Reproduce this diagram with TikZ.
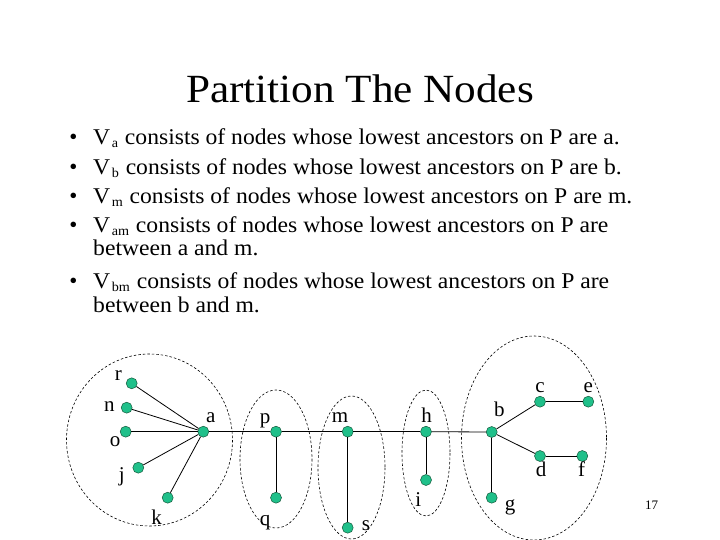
\documentclass[tikz,border=0pt]{standalone}
\usepackage{fontspec}
\setmainfont{Liberation Serif}
\newfontfamily\titlefont[FakeStretch=1.08]{Liberation Serif}
\newfontfamily\bodyfont[FakeStretch=1.05]{Liberation Serif}
\definecolor{dotfill}{RGB}{32,192,138}
\definecolor{dotline}{RGB}{20,90,60}
\newcommand{\vsub}[1]{\kern1.5pt\relax\raisebox{-3pt}{\fontsize{13.5}{14}\selectfont #1}\kern1pt\relax}
\begin{document}
\begin{tikzpicture}[x=1pt,y=-1pt,
  txt/.style={anchor=base west,inner sep=0pt,font=\bodyfont\fontsize{22.5}{26}\selectfont},
  bul/.style={anchor=base,inner sep=0pt,font=\fontsize{23}{26}\selectfont},
  lbl/.style={anchor=base,inner sep=0pt,font=\fontsize{21}{24}\selectfont},
  dot/.style={circle,minimum size=11pt,inner sep=0pt,fill=dotfill,draw=dotline,line width=0.5pt},
  edge/.style={draw=black,line width=0.8pt},
  part/.style={draw=black,dashed,dash pattern=on 2.5pt off 2pt,line width=0.6pt}]
\useasboundingbox (0,0) rectangle (720,540);
\fill[white] (0,0) rectangle (720,540);
% title
\node[anchor=base,inner sep=0pt,font=\titlefont\fontsize{40}{48}\selectfont] (title) at (360,103) {Partition The Nodes};
% bullets
\node[bul] (b1) at (73.5,145) {•};
\node[txt] (t1) at (93,145) {V\vsub{a} consists of nodes whose lowest ancestors on P are a.};
\node[bul] (b2) at (73.5,174.5) {•};
\node[txt] (t2) at (93,174.5) {V\vsub{b} consists of nodes whose lowest ancestors on P are b.};
\node[bul] (b3) at (73.5,204) {•};
\node[txt] (t3) at (93,204) {V\vsub{m} consists of nodes whose lowest ancestors on P are m.};
\node[bul] (b4) at (73.5,232.5) {•};
\node[txt] (t4) at (93,232.5) {V\vsub{am} consists of nodes whose lowest ancestors on P are};
\node[txt] (t4b) at (93,255) {between a and m.};
\node[bul] (b5) at (73.5,288.5) {•};
\node[txt] (t5) at (93,288.5) {V\vsub{bm} consists of nodes whose lowest ancestors on P are};
\node[txt] (t5b) at (93,312) {between b and m.};
% partitions
\draw[part] (149.5,440) ellipse [x radius=83, y radius=86];
\draw[part] (276,459) ellipse [x radius=36, y radius=69];
\draw[part] (351.5,467.5) ellipse [x radius=33.5, y radius=71.5];
\draw[part] (426,453) ellipse [x radius=24, y radius=63];
\draw[part] (534,438) ellipse [x radius=72.5, y radius=102];
% dots
\node[dot] (r) at (131.7,383.3) {};
\node[dot] (n) at (126.7,407.7) {};
\node[dot] (o) at (125.7,431.7) {};
\node[dot] (j) at (138.3,467.7) {};
\node[dot] (k) at (167.7,497.7) {};
\node[dot] (a) at (203.3,431.7) {};
\node[dot] (p) at (276,431.7) {};
\node[dot] (q) at (276,497.7) {};
\node[dot] (m) at (347.7,431.7) {};
\node[dot] (s) at (347.7,527.7) {};
\node[dot] (h) at (426,431.7) {};
\node[dot] (i) at (426,480) {};
\node[dot] (b) at (491.7,432) {};
\node[dot] (c) at (540,401.7) {};
\node[dot] (e) at (588.3,401.7) {};
\node[dot] (d) at (540,456) {};
\node[dot] (f) at (582.3,456) {};
\node[dot] (g) at (491.7,497.7) {};
% edges
\draw[edge] (r) -- (a);
\draw[edge] (n) -- (a);
\draw[edge] (o) -- (a);
\draw[edge] (j) -- (a);
\draw[edge] (k) -- (a);
\draw[edge] (a) -- (p);
\draw[edge] (p) -- (q);
\draw[edge] (p) -- (m);
\draw[edge] (m) -- (s);
\draw[edge] (m) -- (h);
\draw[edge] (h) -- (i);
\draw[edge] (h) -- (b);
\draw[edge] (b) -- (c);
\draw[edge] (c) -- (e);
\draw[edge] (b) -- (d);
\draw[edge] (d) -- (f);
\draw[edge] (b) -- (g);
% labels
\node[lbl] (lr) at (118.3,380) {r};
\node[lbl] (ln) at (109.3,411.7) {n};
\node[lbl] (lo) at (115,446) {o};
\node[lbl] (lj) at (121.7,481.7) {j};
\node[lbl] (lk) at (156.7,524.3) {k};
\node[lbl] (la) at (210.7,422.3) {a};
\node[lbl] (lp) at (265,423.3) {p};
\node[lbl] (lm) at (340,422.7) {m};
\node[lbl] (lh) at (426.7,422.7) {h};
\node[lbl] (lq) at (265,525) {q};
\node[lbl] (ls) at (366,530.7) {s};
\node[lbl] (li) at (418.3,506.7) {i};
\node[lbl] (lb) at (499.3,416.7) {b};
\node[lbl] (lc) at (540,392.7) {c};
\node[lbl] (le) at (588.3,392.7) {e};
\node[lbl] (ld) at (541,476.7) {d};
\node[lbl] (lf) at (581.7,476.7) {f};
\node[lbl] (lg) at (510,510) {g};
\node[anchor=base,inner sep=0pt,font=\fontsize{13}{15}\selectfont] (pg) at (651.7,509) {17};
\end{tikzpicture}
\end{document}
